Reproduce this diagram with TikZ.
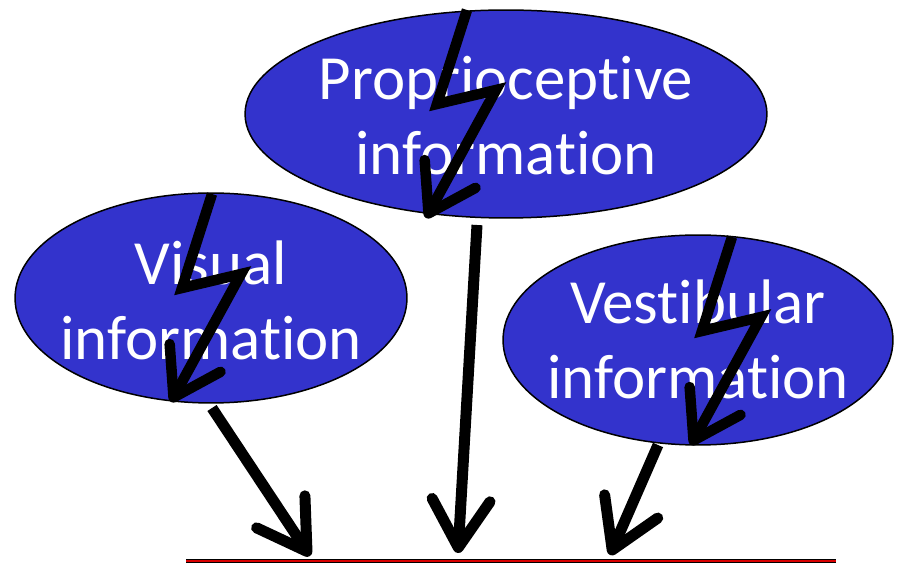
\documentclass[tikz,border=0pt]{standalone}
\usepackage{fontspec}
\setmainfont{Carlito}[Ligatures=NoCommon]
\usetikzlibrary{arrows.meta,shapes.geometric}
\definecolor{infoblue}{RGB}{51,51,204}
\tikzset{%
  sense/.style = { ellipse, draw=black, line width=0.03cm, fill=infoblue, inner sep=0pt },
  sensetext/.style = { text=white, align=center, font=\fontsize{35.8}{42.7}\selectfont },
  bolt/.style = { line width=0.21cm, line join=miter, -{Straight Barb[length=0.9cm,width=1.16cm,round]} },
  feed/.style = { line width=0.22cm, -{Straight Barb[length=0.95cm,width=1.16cm,round]} },
  ground/.style = { line width=0.07cm }
}

\begin{document}
\begin{tikzpicture}[x=0.02cm,y=-0.02cm]

  \useasboundingbox (0,0) rectangle (900,563);

  % Sources
  \node[sense,minimum width=10.44cm,minimum height=4.16cm] (prop) at (506,114) {};
  \node[sense,minimum width=7.84cm,minimum height=4.2cm] (vis) at (211,298) {};
  \node[sense,minimum width=7.8cm,minimum height=4.2cm] (vest) at (698,340) {};

  \node[sensetext] (propText) at (506,116) {Proprioceptive\\information};
  \node[sensetext] (visText) at (211,300) {Visual\\information};
  \node[sensetext] (vestText) at (698,339) {Vestibular\\information};

  % Disturbances
  \coordinate (prop bolt) at (467,10);
  \coordinate (vis bolt) at (212,194);
  \coordinate (vest bolt) at (732,237);
  \foreach \src in {prop,vis,vest} {
    \draw[bolt] (\src\space bolt) -- ++(-30,94) -- ++(59,-14) -- ++(-70,128);
  }

  % Ground line
  \coordinate (gl) at (186,561);
  \coordinate (gr) at (836,561);
  \draw[ground,black] (gl) -- (gr);
  \draw[ground,red!85!black,line width=0.035cm] (gl) -- (gr);

  % Feeds
  \coordinate (visFrom) at (212,408);
  \coordinate (visTo) at (310,556);
  \coordinate (propFrom) at (477,225);
  \coordinate (propTo) at (458,553);
  \coordinate (vestFrom) at (658,445);
  \coordinate (vestTo) at (610,555);
  \draw[feed] (visFrom) -- (visTo);
  \draw[feed] (propFrom) -- (propTo);
  \draw[feed] (vestFrom) -- (vestTo);

\end{tikzpicture}
\end{document}
